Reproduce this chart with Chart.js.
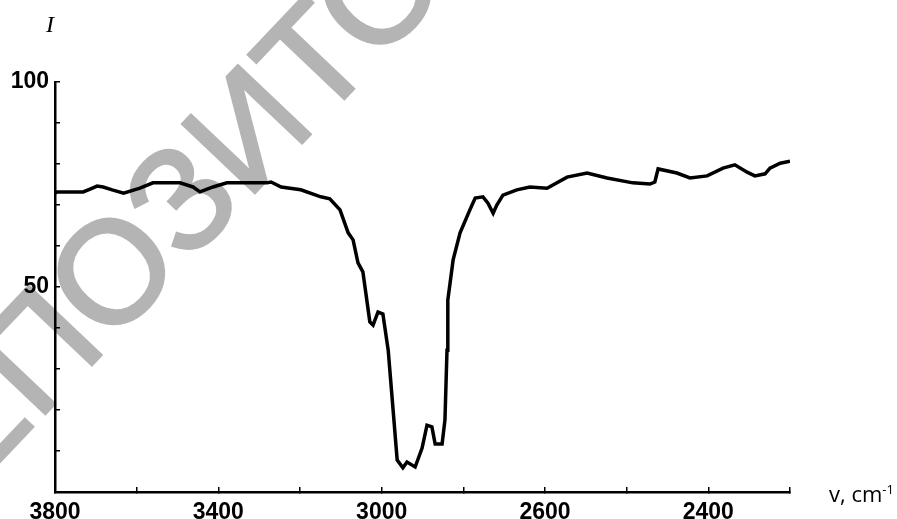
<!DOCTYPE html>
<html>
<head>
<meta charset="utf-8">
<script src="https://cdn.jsdelivr.net/npm/chart.js@4.4.1/dist/chart.umd.min.js"></script>
<style>
  html, body { margin: 0; padding: 0; background: #fff; }
  #wrap { position: relative; width: 897px; height: 519px; overflow: hidden; }
  #plot { position: absolute; left: 0; top: 0; }
  .lbl { position: absolute; color: #000; white-space: nowrap; }
  #ylab { left: 46px; top: 11px; font: italic 24px "Liberation Serif", serif; }
  #xlab { left: 829px; top: 478px; font: 22px "Open Sans", sans-serif; }
  #xlab sup { font-size: 13px; }
</style>
</head>
<body>
<div id="wrap">
  <canvas id="plot" width="897" height="519"></canvas>
  <div class="lbl" id="ylab">I</div>
  <div class="lbl" id="xlab">v, cm<sup>-1</sup></div>
</div>
<script>
// IR spectrum: position on the wavenumber axis and intensity
const wavenumber = [3800, 3795, 3731, 3714, 3697, 3682, 3660, 3632, 3592, 3560, 3494, 3462, 3445, 3413, 3379,
  3330, 3281, 3271, 3246, 3198, 3149, 3127, 3102, 3082, 3070, 3058, 3046, 3029, 3021, 3009, 2997,
  2984, 2972, 2962, 2948, 2938, 2918, 2901, 2889, 2877, 2869, 2852, 2845, 2840, 2838, 2825, 2808,
  2784, 2771, 2752, 2740, 2727, 2718, 2703, 2669, 2637, 2595, 2546, 2497, 2448, 2385, 2343, 2331,
  2323, 2277, 2245, 2203, 2164, 2135, 2105, 2086, 2061, 2049, 2024, 2000];
const intensity = [72.9, 73.2, 73.2, 73.9, 74.6, 74.4, 73.7, 72.9, 74.1, 75.4, 75.4, 74.4, 73.2, 74.4, 75.4,
  75.4, 75.4, 75.6, 74.4, 73.7, 72.0, 71.5, 68.8, 63.2, 61.5, 55.9, 53.7, 41.5, 40.7, 43.9, 43.4,
  34.6, 20.0, 7.8, 5.9, 7.3, 6.1, 10.7, 16.3, 15.9, 11.7, 11.7, 17.6, 34.6, 46.8, 56.6, 63.2,
  68.8, 71.7, 72.0, 70.5, 68.0, 70.0, 72.4, 73.7, 74.4, 74.1, 76.8, 77.8, 76.6, 75.4, 75.1, 75.6,
  78.8, 77.8, 76.6, 77.1, 79.0, 79.8, 78.0, 77.1, 77.6, 79.0, 80.2, 80.7];

// tick labels as printed on the original axes
const xLabelAt = [3800, 3400, 3000, 2600, 2200];
const xLabelText = ['3800', '3400', '3000', '2600', '2400'];
const yLabelAt = [100, 50];

const points = wavenumber.map((v, i) => ({x: v, y: intensity[i]}));

const watermark = {
    id: 'watermark',
    beforeDraw(chart) {
        const ctx = chart.ctx;
        ctx.save();
        ctx.font = '145px "Liberation Sans", Arial, sans-serif';
        ctx.fillStyle = '#b4b4b4';
        ctx.strokeStyle = '#b4b4b4';
        ctx.lineWidth = 3;
        ctx.translate(110, 270);
        ctx.rotate(-46.5 * Math.PI / 180);
        const pre = ctx.measureText('РЕП').width + ctx.measureText('О').width / 2;
        ctx.fillText('РЕПОЗИТОРИЙ', -pre, 52);
        ctx.strokeText('РЕПОЗИТОРИЙ', -pre, 52);
        ctx.restore();
    }
};

new Chart(document.getElementById('plot').getContext('2d'), {
    type: 'line',
    data: {
        datasets: [{
            data: points,
            borderColor: '#000',
            borderWidth: 3.5,
            pointRadius: 0,
            tension: 0,
            fill: false
        }]
    },
    options: {
        responsive: false,
        animation: false,
        layout: { padding: { left: 0, right: 107, top: 82, bottom: 0 } },
        plugins: { legend: { display: false }, tooltip: { enabled: false } },
        scales: {
            x: {
                type: 'linear',
                reverse: true,
                min: 2000,
                max: 3800,
                afterFit: s => { s.height = 27; },
                border: { color: '#000', width: 2.5 },
                // negative length puts the small tick marks inside the plot, as in the original
                grid: { drawOnChartArea: false, color: '#000', tickLength: -5, lineWidth: 1.5 },
                ticks: {
                    stepSize: 200,
                    autoSkip: false,
                    maxRotation: 0,
                    padding: 12,
                    color: '#000',
                    font: { family: '"Liberation Sans", Arial, sans-serif', size: 23, weight: 'bold' },
                    callback: v => {
                        const k = xLabelAt.indexOf(v);
                        return k >= 0 ? xLabelText[k] : '';
                    }
                }
            },
            y: {
                min: 0,
                max: 100,
                afterFit: s => { s.width = 55; },
                border: { color: '#000', width: 2.5 },
                grid: { drawOnChartArea: false, color: '#000', tickLength: -5, lineWidth: 1.5 },
                ticks: {
                    stepSize: 10,
                    autoSkip: false,
                    padding: 11,
                    color: '#000',
                    font: { family: '"Liberation Sans", Arial, sans-serif', size: 23, weight: 'bold' },
                    callback: v => yLabelAt.includes(v) ? String(v) : ''
                }
            }
        }
    },
    plugins: [watermark]
});
</script>
</body>
</html>
